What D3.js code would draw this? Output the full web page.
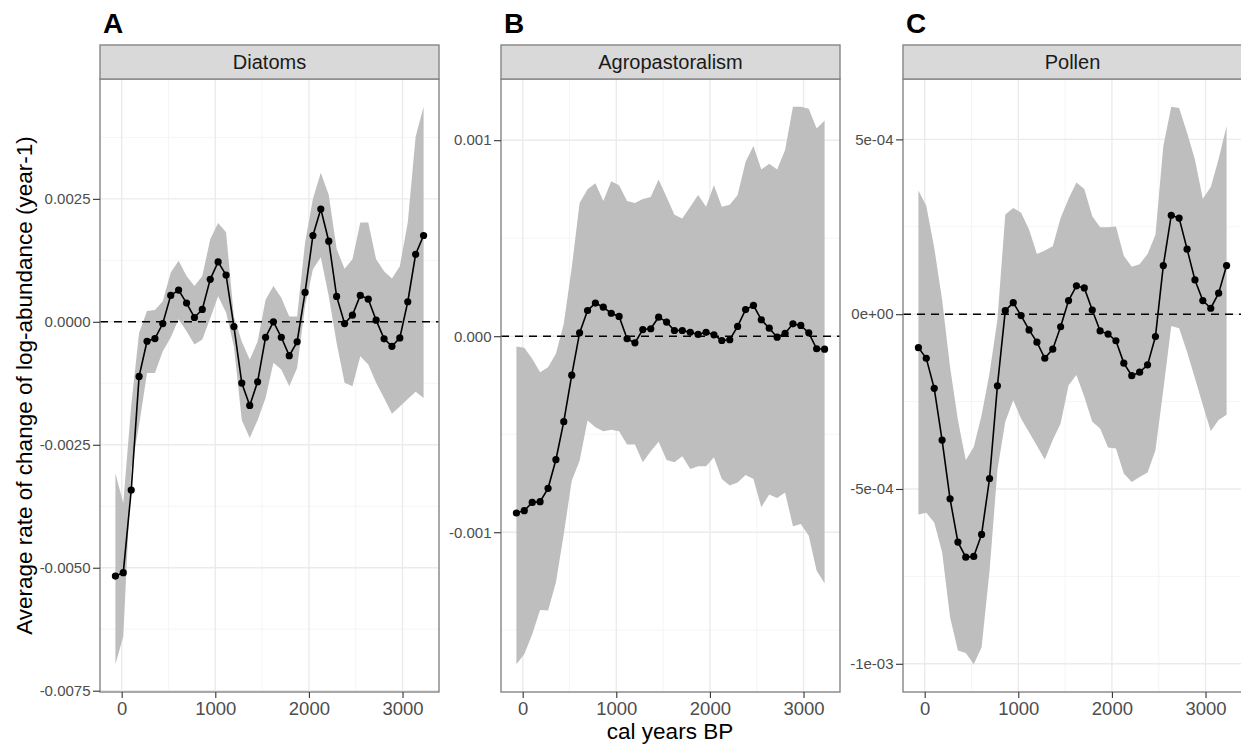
<!DOCTYPE html>
<html>
<head>
<meta charset="utf-8">
<script src="https://cdn.jsdelivr.net/npm/d3@7"></script>
<style>
  body { margin: 0; background: #fff; }
  svg { display: block; font-family: "Liberation Sans", Arial, Helvetica, sans-serif; }
  .grid-major { stroke: #ebebeb; stroke-width: 1.4; }
  .grid-minor { stroke: #f3f3f3; stroke-width: 0.8; }
  .axis .tick line { stroke: #333333; stroke-width: 1.1; }
</style>
</head>
<body>
<svg id="chart"></svg>
<script>
// bin centres (cal years BP), shared by the three facets
const years = [-67, 17, 102, 186, 271, 355, 439, 524, 608, 693, 777, 861, 946, 1030, 1115,
  1199, 1283, 1368, 1452, 1537, 1621, 1705, 1790, 1874, 1959, 2043, 2127, 2212, 2296, 2381,
  2465, 2549, 2634, 2718, 2803, 2887, 2971, 3056, 3140, 3225];

// A - Diatoms
const diatomMean = [-0.00517, -0.00510, -0.00342, -0.00111, -0.000395, -0.000341, -0.000035, 0.000537,
  0.000646, 0.00038, 0.000088, 0.000251, 0.000863, 0.001217, 0.000952, -0.000096, -0.001245, -0.0017,
  -0.00122, -0.000314, 0.0, -0.000314, -0.000688, -0.000408, 0.000598, 0.001755, 0.002292, 0.001639,
  0.000516, -0.000035, 0.000135, 0.000537, 0.000461, 0.000033, -0.000347, -0.000498, -0.000327,
  0.000408, 0.001373, 0.001755];
const diatomLower = [-0.00696, -0.0064, -0.0030, -0.0021, -0.00104, -0.00104, -0.0006, -0.00032, 0.00005,
  -0.00019, -0.00046, -0.00036, 0.00007, 0.00052, 0.00019, -0.0005, -0.0020, -0.00236, -0.0020, -0.00155,
  -0.00083, -0.00097, -0.00131, -0.00094, 0.00032, 0.00107, 0.00131, 0.00052, -0.00043, -0.00124,
  -0.00131, -0.0007, -0.00087, -0.00124, -0.00155, -0.00187, -0.00172, -0.00157, -0.00142, -0.00155];
const diatomUpper = [-0.00308, -0.00369, -0.0017, -0.00022, 0.00022, 0.00024, 0.00042, 0.0010, 0.00124,
  0.00093, 0.00073, 0.00093, 0.00168, 0.00201, 0.00182, 0.0001, -0.0004, -0.00077, -0.0004, 0.00045,
  0.00073, 0.00049, 0.00011, 0.00011, 0.00161, 0.0025, 0.00303, 0.00258, 0.00148, 0.00108, 0.00127,
  0.00202, 0.00202, 0.00127, 0.00103, 0.00088, 0.00113, 0.00202, 0.00376, 0.00437];

// B - Agropastoralism
const agroMean = [-0.000902, -0.00089, -0.000848, -0.000844, -0.000776, -0.00063, -0.000436, -0.000199,
  0.000017, 0.000131, 0.000169, 0.000148, 0.000117, 0.000101, -0.000013, -0.000034, 0.000034, 0.000038,
  0.000097, 0.000072, 0.000029, 0.000029, 0.00002, 0.000009, 0.00002, 0.000007, -0.000022, -0.000018,
  0.00005, 0.000136, 0.000157, 0.000084, 0.000041, -0.000005, 0.000015, 0.000063, 0.000055, 0.000017,
  -0.000064, -0.000066];
const agroLower = [-0.001673, -0.001622, -0.00152, -0.001397, -0.0014, -0.001256, -0.001009, -0.000737,
  -0.000635, -0.00043, -0.000465, -0.000485, -0.000477, -0.000485, -0.000553, -0.000553, -0.000643,
  -0.000587, -0.000538, -0.000631, -0.000643, -0.000613, -0.000677, -0.000664, -0.000664, -0.000618,
  -0.000728, -0.000762, -0.000746, -0.000708, -0.000728, -0.000872, -0.000808, -0.000825, -0.000797,
  -0.00097, -0.000958, -0.001018, -0.001197, -0.00126];
const agroUpper = [-0.000053, -0.000059, -0.000115, -0.000184, -0.000158, -0.00009, 0.000063, 0.00035,
  0.00068, 0.00075, 0.00078, 0.00069, 0.00079, 0.00077, 0.00069, 0.00068, 0.0007, 0.00071, 0.0008,
  0.00071, 0.00062, 0.0006, 0.00066, 0.00072, 0.00066, 0.00077, 0.00066, 0.00067, 0.00072, 0.00089,
  0.00097, 0.00085, 0.00088, 0.00085, 0.00095, 0.00117, 0.00117, 0.00116, 0.00106, 0.0011];

// C - Pollen
const pollenMean = [-0.0000957, -0.000126, -0.000212, -0.00036, -0.000528, -0.000652, -0.000695, -0.000693,
  -0.00063, -0.00047, -0.000205, 0.00001, 0.000033, -0.000004, -0.000045, -0.00008, -0.000126, -0.0001,
  -0.000036, 0.000039, 0.000081, 0.000075, 0.000012, -0.000048, -0.000057, -0.000076, -0.00014, -0.000176,
  -0.000166, -0.000145, -0.000064, 0.000139, 0.000283, 0.000275, 0.000186, 0.000098, 0.000039, 0.000017,
  0.00006, 0.000139];
const pollenLower = [-0.000573, -0.000568, -0.000596, -0.00068, -0.000867, -0.000962, -0.000969, -0.001001,
  -0.000953, -0.000734, -0.000446, -0.000308, -0.000246, -0.000299, -0.000338, -0.000376, -0.000416,
  -0.00036, -0.000313, -0.000203, -0.000174, -0.000236, -0.000308, -0.000327, -0.000381, -0.000384,
  -0.000456, -0.00048, -0.000466, -0.000453, -0.000389, -0.000217, -0.000034, -0.00004, -0.000108,
  -0.000183, -0.00026, -0.000334, -0.000303, -0.000288];
const pollenUpper = [0.000354, 0.00031, 0.00019, 0.000041, -0.000151, -0.000303, -0.000418, -0.00038,
  -0.000289, -0.000168, -0.000016, 0.000285, 0.000304, 0.00029, 0.000242, 0.000172, 0.000182, 0.000194,
  0.000275, 0.00033, 0.000377, 0.000358, 0.00028, 0.000249, 0.000249, 0.000251, 0.000167, 0.000136,
  0.000143, 0.000172, 0.000227, 0.00048, 0.000593, 0.00059, 0.000519, 0.000442, 0.00033, 0.000364,
  0.000444, 0.000538];

// ticks
const xTicks = [0, 1000, 2000, 3000];
const xLabels = ['0', '1000', '2000', '3000'];
const xMinor = [500, 1500, 2500];

const yTicksA = [0.0025, 0, -0.0025, -0.005, -0.0075];
const yLabelsA = ['0.0025', '0.0000', '-0.0025', '-0.0050', '-0.0075'];
const yMinorA = [0.00375, 0.00125, -0.00125, -0.00375, -0.00625];

const yTicksB = [0.001, 0, -0.001];
const yLabelsB = ['0.001', '0.000', '-0.001'];
const yMinorB = [0.0005, -0.0005, -0.0015];

const yTicksC = [5e-4, 0, -5e-4, -1e-3];
const yLabelsC = ['5e-04', '0e+00', '-5e-04', '-1e-03'];
const yMinorC = [2.5e-4, -2.5e-4, -7.5e-4];

const WIDTH = 1241, HEIGHT = 747;
const PANEL_TOP = 79, PANEL_BOTTOM = 692, STRIP_TOP = 45;
const PANEL_W = 339;
const PANEL_LEFT = [100, 501, 903];

const panels = [
  { tag: 'A', name: 'Diatoms', mean: diatomMean, lower: diatomLower, upper: diatomUpper,
    ticks: yTicksA, labels: yLabelsA, minor: yMinorA },
  { tag: 'B', name: 'Agropastoralism', mean: agroMean, lower: agroLower, upper: agroUpper,
    ticks: yTicksB, labels: yLabelsB, minor: yMinorB },
  { tag: 'C', name: 'Pollen', mean: pollenMean, lower: pollenLower, upper: pollenUpper,
    ticks: yTicksC, labels: yLabelsC, minor: yMinorC }
];

const svg = d3.select('#chart')
  .attr('width', WIDTH)
  .attr('height', HEIGHT);

// ggplot style 5% expansion
function expand(ext) {
  const pad = (ext[1] - ext[0]) * 0.05;
  return [ext[0] - pad, ext[1] + pad];
}

const xDomain = expand(d3.extent(years));

panels.forEach(function(p, k) {
  const left = PANEL_LEFT[k];
  const x = d3.scaleLinear().domain(xDomain).range([left, left + PANEL_W]);
  const y = d3.scaleLinear()
    .domain(expand([d3.min(p.lower), d3.max(p.upper)]))
    .range([PANEL_BOTTOM, PANEL_TOP]);

  const rows = years.map((yr, i) => ({ yr: yr, m: p.mean[i], lo: p.lower[i], hi: p.upper[i] }));
  const g = svg.append('g');

  g.append('rect')
    .attr('x', left).attr('y', PANEL_TOP)
    .attr('width', PANEL_W).attr('height', PANEL_BOTTOM - PANEL_TOP)
    .attr('fill', '#fff');

  // grid
  g.selectAll('.ymin').data(p.minor).enter().append('line')
    .attr('class', 'grid-minor')
    .attr('x1', left).attr('x2', left + PANEL_W)
    .attr('y1', d => y(d)).attr('y2', d => y(d));
  g.selectAll('.xmin').data(xMinor).enter().append('line')
    .attr('class', 'grid-minor')
    .attr('y1', PANEL_TOP).attr('y2', PANEL_BOTTOM)
    .attr('x1', d => x(d)).attr('x2', d => x(d));
  g.selectAll('.ymaj').data(p.ticks).enter().append('line')
    .attr('class', 'grid-major')
    .attr('x1', left).attr('x2', left + PANEL_W)
    .attr('y1', d => y(d)).attr('y2', d => y(d));
  g.selectAll('.xmaj').data(xTicks).enter().append('line')
    .attr('class', 'grid-major')
    .attr('y1', PANEL_TOP).attr('y2', PANEL_BOTTOM)
    .attr('x1', d => x(d)).attr('x2', d => x(d));

  // ribbon
  g.append('path')
    .datum(rows)
    .attr('fill', '#bebebe')
    .attr('d', d3.area().x(d => x(d.yr)).y0(d => y(d.lo)).y1(d => y(d.hi)));

  // zero line
  g.append('line')
    .attr('x1', left).attr('x2', left + PANEL_W)
    .attr('y1', y(0)).attr('y2', y(0))
    .attr('stroke', '#000').attr('stroke-width', 1.4)
    .attr('stroke-dasharray', '8,6');

  // mean line + points
  g.append('path')
    .datum(rows)
    .attr('fill', 'none')
    .attr('stroke', '#000')
    .attr('stroke-width', 1.6)
    .attr('d', d3.line().x(d => x(d.yr)).y(d => y(d.m)));

  g.selectAll('circle').data(rows).enter().append('circle')
    .attr('cx', d => x(d.yr))
    .attr('cy', d => y(d.m))
    .attr('r', 3.6)
    .attr('fill', '#000');

  // border
  g.append('rect')
    .attr('x', left).attr('y', PANEL_TOP)
    .attr('width', PANEL_W).attr('height', PANEL_BOTTOM - PANEL_TOP)
    .attr('fill', 'none').attr('stroke', '#858585').attr('stroke-width', 1.4);

  // strip
  g.append('rect')
    .attr('x', left).attr('y', STRIP_TOP)
    .attr('width', PANEL_W).attr('height', PANEL_TOP - STRIP_TOP)
    .attr('fill', '#d9d9d9').attr('stroke', '#858585').attr('stroke-width', 1.4);
  g.append('text')
    .attr('x', left + PANEL_W / 2).attr('y', 69)
    .attr('text-anchor', 'middle')
    .attr('font-size', '20px')
    .attr('fill', '#1a1a1a')
    .text(p.name);

  // panel tag
  g.append('text')
    .attr('x', left + 3).attr('y', 33)
    .attr('font-size', '28px')
    .attr('font-weight', 'bold')
    .text(p.tag);

  // axes
  const yAxis = d3.axisLeft(y)
    .tickValues(p.ticks)
    .tickFormat((d, i) => p.labels[i])
    .tickSize(7)
    .tickPadding(2.5);
  g.append('g')
    .attr('class', 'axis')
    .attr('transform', 'translate(' + left + ',0)')
    .call(yAxis)
    .call(a => a.select('.domain').remove())
    .call(a => a.selectAll('text')
      .attr('font-size', '15px')
      .attr('font-family', '"Liberation Sans", Arial, sans-serif')
      .attr('fill', '#4d4d4d'));

  const xAxis = d3.axisBottom(x)
    .tickValues(xTicks)
    .tickFormat((d, i) => xLabels[i])
    .tickSize(6)
    .tickPadding(3.5);
  g.append('g')
    .attr('class', 'axis')
    .attr('transform', 'translate(0,' + PANEL_BOTTOM + ')')
    .call(xAxis)
    .call(a => a.select('.domain').remove())
    .call(a => a.selectAll('text')
      .attr('font-size', '18.5px')
      .attr('font-family', '"Liberation Sans", Arial, sans-serif')
      .attr('fill', '#4d4d4d'));
});

// axis titles
svg.append('text')
  .attr('x', 670).attr('y', 739)
  .attr('text-anchor', 'middle')
  .attr('font-size', '22.5px')
  .text('cal years BP');

svg.append('text')
  .attr('transform', 'translate(31.5,' + (PANEL_TOP + PANEL_BOTTOM) / 2 + ') rotate(-90)')
  .attr('text-anchor', 'middle')
  .attr('font-size', '22.5px')
  .text('Average rate of change of log-abundance (year-1)');
</script>
</body>
</html>
